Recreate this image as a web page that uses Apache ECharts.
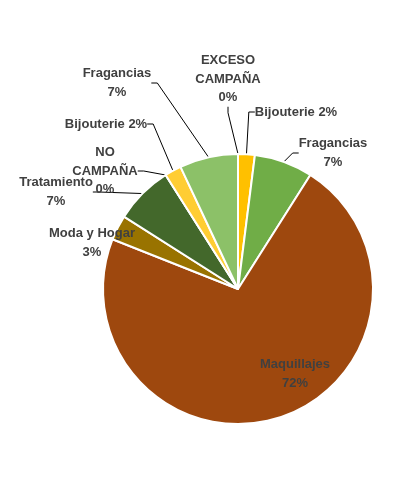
<!DOCTYPE html>
<html><head><meta charset="utf-8">
<script src="https://cdn.jsdelivr.net/npm/echarts@6/dist/echarts.min.js"></script>
<style>html,body{margin:0;padding:0;background:#fff}#c{width:410px;height:490px}</style>
</head><body><div id="c"></div>
<script>
const categories = ['EXCESO CAMPAÑA','Bijouterie','Fragancias','Maquillajes','Moda y Hogar','Tratamiento','NO CAMPAÑA','Bijouterie','Fragancias'];
const values = [0, 2, 7, 72, 3, 7, 0, 2, 7];
const colors = ['#5B9BD5','#FFC000','#70AD47','#9E480E','#997300','#43682B','#264478','#FFCD33','#8CC168'];
// label text style: 'wrap' = name broken at spaces, 'two' = name / percent, 'one' = single line
const labelKinds = ['wrap','one','two','two','two','two','wrap','one','two'];
// label anchor positions (layout only)
const labelPos = [[228,79],[296,112],[333,153],[295,374],[92,243],[56,192],[105,171],[106,124],[117,83]];

const chart = echarts.init(document.getElementById('c'));
chart.setOption({
  animation:false,
  series:[{
    type:'pie',
    center:[238,289],
    radius:135,
    startAngle:90,
    clockwise:true,
    minAngle:0,
    avoidLabelOverlap:false,
    itemStyle:{borderColor:'#fff',borderWidth:2},
    label:{show:true,color:'#404040',fontFamily:'Liberation Sans, Arial, sans-serif',fontWeight:'bold',fontSize:13,lineHeight:18.5,align:'center',
      formatter:function(p){
        const k = labelKinds[p.dataIndex];
        const pct = Math.round(p.percent) + '%';
        if (k==='wrap') return p.name.split(' ').join('\n') + '\n' + pct;
        if (k==='one') return p.name + ' ' + pct;
        return p.name + '\n' + pct;
      }},
    labelLine:{show:true,length:10,length2:6,lineStyle:{color:'#000',width:1}},
    labelLayout:function(p){
      const pos = labelPos[p.dataIndex];
      return {x:pos[0], y:pos[1], align:'center', verticalAlign:'middle'};
    },
    data: categories.map((n,i)=>({
      name:n, value:values[i],
      itemStyle:{color:colors[i]},
      label:{position: i===3?'inside':'outside'},
      labelLine:{show: i!==3 && i!==4}
    }))
  }]
});
</script></body></html>
